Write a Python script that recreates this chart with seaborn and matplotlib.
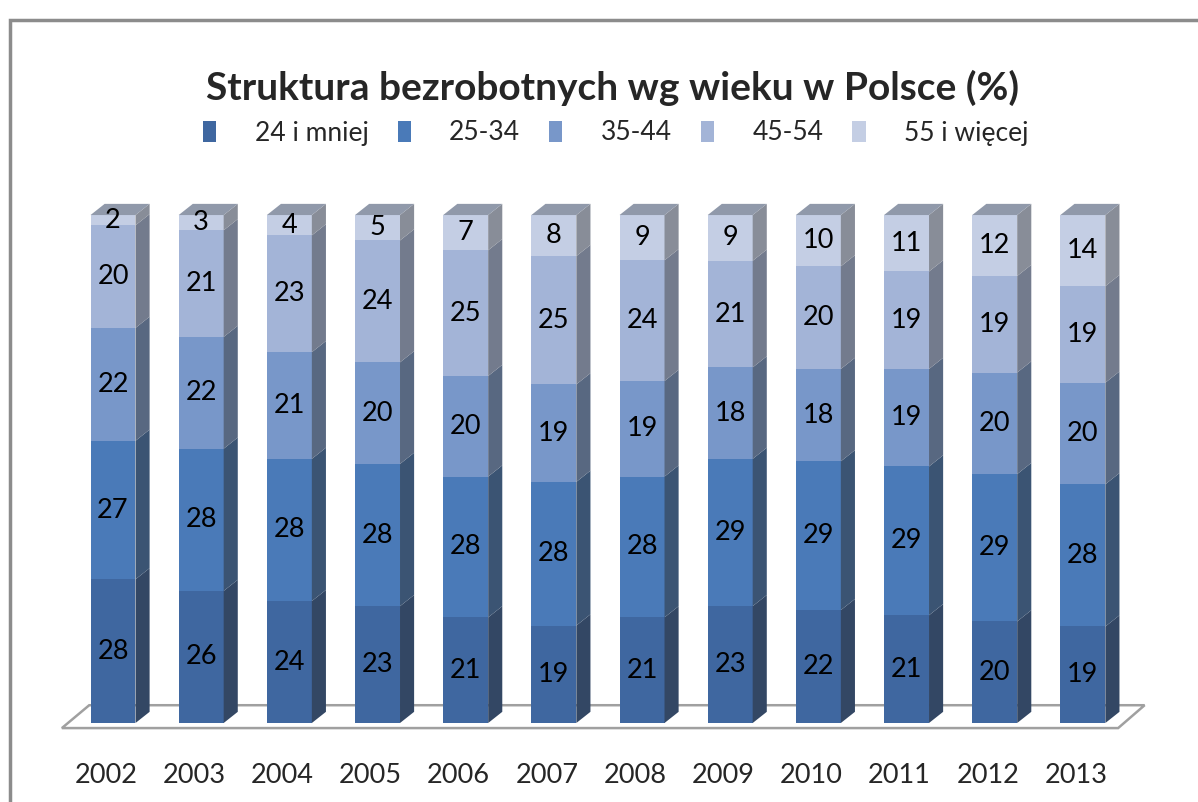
import matplotlib.pyplot as plt
import matplotlib.colors as mcolors
from matplotlib.patches import Rectangle, Polygon, Patch
from matplotlib.transforms import ScaledTranslation
import seaborn as sns
import pandas as pd
import numpy as np

sns.set_theme(style="white")
plt.rcParams['font.family'] = ['Lato', 'DejaVu Sans']

# Data (percent of unemployed by age group)
years = ['2002', '2003', '2004', '2005', '2006', '2007',
         '2008', '2009', '2010', '2011', '2012', '2013']
groups = ['24 i mniej', '25-34', '35-44', '45-54', '55 i więcej']
age_24 = [28, 26, 24, 23, 21, 19, 21, 23, 22, 21, 20, 19]
age_25_34 = [27, 28, 28, 28, 28, 28, 28, 29, 29, 29, 29, 28]
age_35_44 = [22, 22, 21, 20, 20, 19, 19, 18, 18, 19, 20, 20]
age_45_54 = [20, 21, 23, 24, 25, 25, 24, 21, 20, 19, 19, 19]
age_55 = [2, 3, 4, 5, 7, 8, 9, 9, 10, 11, 12, 14]

series = [age_24, age_25_34, age_35_44, age_45_54, age_55]
colors = ['#3F67A0', '#4A7AB8', '#7897C9', '#A3B4D7', '#C4CEE4']

# 100% stacked: normalise each year to its total
vals = np.array(series, dtype=float)
vals = vals / vals.sum(axis=0) * 100
cum = np.cumsum(vals, axis=0)
below = cum - vals

fig = plt.figure(figsize=(11.98, 8.02), dpi=100)
ax = fig.add_axes([0.0465, 0.089, 0.9126, 0.6587])

# stacked bars: draw cumulative totals from tallest to shortest
for k in range(len(groups) - 1, -1, -1):
    df = pd.DataFrame({'Rok': years, 'v': cum[k]})
    sns.barplot(data=df, x='Rok', y='v', color=colors[k], saturation=1,
                width=0.51, ax=ax, linewidth=0)

# pseudo-3D depth
dx, dy = 0.16, 2.2
bars = ax.patches[-len(years):]


def shade(c, f):
    r = np.array(mcolors.to_rgb(c))
    g = r.mean()
    return tuple(np.clip((r * 0.75 + g * 0.25) * f, 0, 1))


# floor
n = len(years)
floor = Polygon([(-0.58, -1), (n - 0.6, -1), (n - 0.3, 3.5), (-0.27, 3.5)],
                closed=True, fc='white', ec='#a0a0a0', lw=1.8, zorder=0)
ax.add_patch(floor)

for i, p in enumerate(bars):
    x1 = p.get_x() + p.get_width()
    x0 = p.get_x()
    for k in range(len(groups)):
        y0, y1 = below[k, i], cum[k, i]
        side = Polygon([(x1, y0), (x1 + dx, y0 + dy), (x1 + dx, y1 + dy), (x1, y1)],
                       closed=True, fc=shade(colors[k], 0.68), ec='none', zorder=3)
        ax.add_patch(side)
        ax.text(i, (y0 + y1) / 2, str(series[k][i]), ha='center', va='center',
                fontsize=19.5, color='black', zorder=5)
    top = cum[-1, i]
    ax.add_patch(Polygon([(x0, top), (x0 + dx, top + dy), (x1 + dx, top + dy), (x1, top)],
                         closed=True, fc='#9099AA', ec='none', zorder=3))

ax.set_xlim(-0.65, 11.75)
ax.set_ylim(-1.5, 102.5)
ax.set_xlabel('')
ax.set_ylabel('')
ax.set_yticks([])
ax.tick_params(axis='x', length=0, pad=23, labelsize=19.5)
for lab in ax.get_xticklabels():
    lab.set_transform(lab.get_transform() + ScaledTranslation(-0.07, 0, fig.dpi_scale_trans))
for s in ax.spines.values():
    s.set_visible(False)
ax.patch.set_alpha(0)

fig.text(0.511, 1 - 88 / 802, 'Struktura bezrobotnych wg wieku w Polsce (%)',
         ha='center', va='center', fontsize=28, fontweight='bold')

handles = [Patch(facecolor=c, edgecolor='none') for c in colors]
fig.legend(handles, groups, loc='center', bbox_to_anchor=(0.514, 1 - 133 / 802),
           ncol=5, frameon=False, fontsize=19, handlelength=0.5, handleheight=0.85,
           handletextpad=1.45, columnspacing=1.1)

# outer chart frame
fig.add_artist(Rectangle((10 / 1198, -0.1), 1.2, (782 / 802) + 0.1,
                         transform=fig.transFigure, fill=False,
                         ec='#8c8c8c', lw=2.5))

fig.savefig('out.png', dpi=100)
